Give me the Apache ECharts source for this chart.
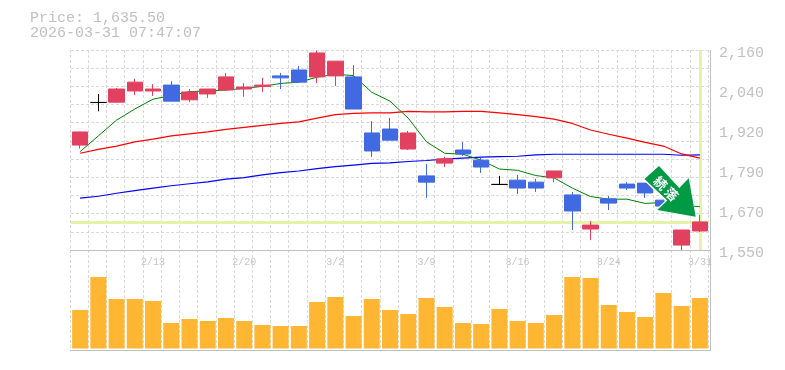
<!DOCTYPE html>
<html><head><meta charset="utf-8">
<style>html,body{margin:0;padding:0;background:#fff}#c{width:785px;height:370px}</style>
<script src="https://cdn.jsdelivr.net/npm/echarts@6/dist/echarts.min.js"></script>
</head><body><div id="c"></div>
<script>
const categories=['2/6','2/9','2/10','2/12','2/13','2/16','2/17','2/18','2/19','2/20','2/24','2/25','2/26','2/27','3/2','3/3','3/4','3/5','3/6','3/9','3/10','3/11','3/12','3/13','3/16','3/17','3/18','3/19','3/23','3/24','3/25','3/26','3/27','3/30','3/31'];
const opens =[1870,2000,2001,2035,2035,2053,2008,2026,2038,2041,2049,2081,2099,2078,2081,2078,1907,1919,1858,1776,1815,1855,1824,1750,1763,1757,1770,1718,1614,1706,1751,1754,1702,1565,1608];
const closes=[1910,2000,2041,2062,2041,2004,2032,2041,2078,2047,2053,2075,2062,2151,2126,1980,1852,1885,1907,1757,1828,1843,1803,1750,1739,1739,1791,1669,1626,1693,1739,1724,1684,1611,1635.5];
const lows  =[1859,1973,1999,2023,2020,2004,2001,2014,2035,2017,2032,2041,2062,2059,2050,1980,1834,1885,1855,1709,1803,1837,1785,1748,1721,1727,1757,1611,1580,1672,1733,1709,1678,1550,1605];
const highs =[1910,2026,2044,2072,2056,2065,2041,2041,2090,2059,2075,2090,2111,2158,2126,2114,1943,1953,1913,1812,1834,1879,1831,1776,1779,1767,1791,1727,1638,1715,1757,1754,1709,1611,1657];
const maShort=[1850,1898,1946,1980,2010,2021,2033,2035,2038,2043,2049,2058,2062,2077,2086,2082,2031,2004,1952,1880,1845,1842,1824,1797,1793,1777,1770,1739,1713,1705,1705,1692,1695,1687,1682];
const maMid=[1845,1857,1867,1880,1888,1898,1904,1910,1918,1924,1930,1936,1941,1952,1963,1967,1968,1968,1973,1971,1971,1973,1973,1968,1963,1957,1949,1936,1916,1903,1891,1878,1867,1843,1830];
const maLong=[1708,1714,1723,1731,1739,1746,1752,1758,1766,1771,1779,1786,1791,1798,1804,1809,1814,1816,1820,1823,1827,1830,1833,1835,1836,1840,1842,1842,1842,1842,1842,1842,1842,1839,1840];
const volumes=[3850,7150,4950,4950,4750,2550,2950,2750,3050,2750,2350,2250,2250,4650,5150,3250,4950,3850,3450,5050,4150,2550,2450,3950,2750,2550,3350,7150,7050,4350,3650,3150,5550,4250,5050];
const lastPrice=1635.5;
const priceTicks=[1550,2160];
const headerLines=['Price: 1,635.50','2026-03-31 07:47:07'];
const arrowLabel=['続','落'];

const GRAY='#c0c0c0',GRID='#d9d9d9',MONO='"Liberation Mono",monospace',UP='#E2405F',DOWN='#4169E1';
const candleData=categories.map((c,i)=>{
  const v=[opens[i],closes[i],lows[i],highs[i]];
  return opens[i]===closes[i]?{value:v,itemStyle:{color:'#000',color0:'#000',borderColor:'#000',borderColor0:'#000'}}:v;
});
const hidden={axisLine:{show:false},axisTick:{show:false},axisLabel:{show:false},splitLine:{show:false}};
const maSeries=(name,data,color,width,z)=>({name,type:'line',data,xAxisIndex:0,yAxisIndex:0,symbol:'none',smooth:false,z,
  lineStyle:{color,width},silent:true,animation:false});
const frame=(x1,y1,x2,y2)=>({type:'line',shape:{x1,y1,x2,y2},style:{stroke:GRAY,lineWidth:1},z:5,silent:true});

const chart=echarts.init(document.getElementById('c'),null,{renderer:'canvas'});
chart.setOption({
  animation:false,backgroundColor:'#fff',
  title:{text:headerLines.join('\n'),left:25,top:6,textStyle:{fontFamily:MONO,fontSize:15,fontWeight:'normal',color:GRAY,lineHeight:15}},
  grid:[
    {left:71,width:638,top:50,height:200},
    {left:71,width:638,top:250,height:100},
    {left:70,width:638,top:50,height:300},
    {left:71,width:638,top:53.5,height:200}
  ],
  xAxis:[
    {type:'category',gridIndex:0,data:categories,boundaryGap:true,...hidden},
    {type:'category',gridIndex:1,data:categories,boundaryGap:true,position:'top',axisLine:{show:false},axisTick:{show:false},splitLine:{show:false},
      axisLabel:{inside:true,margin:7,interval:(i)=>(i+1)%5===0,hideOverlap:false,fontFamily:MONO,fontSize:10,color:'#c4c4c4',showMaxLabel:true}},
    {type:'category',gridIndex:2,data:categories,boundaryGap:true,z:0,axisLine:{show:false},axisTick:{show:false},axisLabel:{show:false},
      splitLine:{show:true,interval:0,lineStyle:{color:GRID,type:[3,2],width:1}}},
    {type:'category',gridIndex:3,data:categories,...hidden}
  ],
  yAxis:[
    {type:'value',gridIndex:0,position:'right',min:priceTicks[0],max:priceTicks[1],...hidden},
    {type:'value',gridIndex:0,min:0,max:11,interval:1,z:0,axisLine:{show:false},axisTick:{show:false},axisLabel:{show:false},
      splitLine:{show:true,lineStyle:{color:GRID,type:[3,2],width:1}}},
    {type:'value',gridIndex:1,min:-150,max:9850,...hidden},
    {type:'value',gridIndex:2,min:0,max:1,...hidden},
    {type:'value',gridIndex:3,position:'right',min:priceTicks[0],max:priceTicks[1],interval:122,axisLine:{show:false},axisTick:{show:false},splitLine:{show:false},
      axisLabel:{margin:10,fontFamily:MONO,fontSize:15,color:GRAY,showMinLabel:true,showMaxLabel:true,
        formatter:(v)=>(Math.round(v/10)*10).toLocaleString('en-US')}}
  ],
  series:[
    {name:'cross',type:'line',data:[],xAxisIndex:0,yAxisIndex:0,z:1,symbol:'none',
      markLine:{silent:true,symbol:'none',animation:false,z:1,label:{show:false},
        lineStyle:{color:'#E4F3A8',width:3,type:'solid'},
        data:[{yAxis:lastPrice},{xAxis:categories[categories.length-1]}]}},
    maSeries('maLong',maLong,'#0000ff',1.2,2),
    maSeries('maMid',maMid,'#ff0000',1.2,2),
    maSeries('maShort',maShort,'#008000',1,2),
    {name:'price',type:'candlestick',data:candleData,xAxisIndex:0,yAxisIndex:0,barWidth:16,z:3,silent:true,
      itemStyle:{color:UP,color0:DOWN,borderColor:UP,borderColor0:DOWN,borderWidth:1}},
    {name:'volume',type:'bar',data:volumes,xAxisIndex:1,yAxisIndex:2,barWidth:16,silent:true,z:3,itemStyle:{color:'#FFB733'}}
  ],
  graphic:[
    frame(70,250.5,711,250.5),
    frame(70,350.5,711,350.5),
    frame(710.5,50,710.5,351),
    {type:'polygon',z:20,silent:true,shape:{points:[[659,164],[642.5,179],[665,201],[655,210.5],[696,217],[688.7,178],[679.3,187]]},style:{fill:'#fff'}},
    {type:'polygon',z:21,silent:true,shape:{points:[[659,166],[644.5,179],[667.3,200.5],[657.3,210],[695.7,216.7],[688.7,178.3],[679.3,188]]},style:{fill:'#009944'}},
    {type:'text',z:22,silent:true,x:660.5,y:183,rotation:-Math.PI/4,style:{text:arrowLabel[0],x:0,y:0,fill:'#fff',align:'center',verticalAlign:'middle',font:'bold 13px "Noto Sans CJK JP"'}},
    {type:'text',z:22,silent:true,x:671.5,y:194,rotation:-Math.PI/4,style:{text:arrowLabel[1],x:0,y:0,fill:'#fff',align:'center',verticalAlign:'middle',font:'bold 13px "Noto Sans CJK JP"'}}
  ]
});
</script></body></html>
